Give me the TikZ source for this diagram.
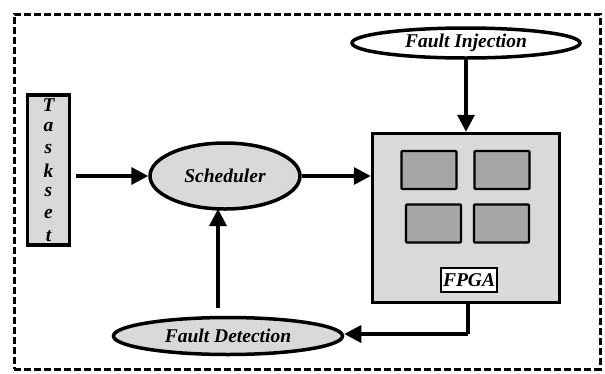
\documentclass[tikz,border=0pt]{standalone}
\usepackage{fontspec}
\setmainfont{Liberation Serif}
\usetikzlibrary{shapes.geometric,arrows.meta}
\definecolor{lgray}{HTML}{D9D9D9}
\definecolor{dgray}{HTML}{A6A6A6}
\begin{document}
\begin{tikzpicture}[x=1pt,y=-1pt,
  every node/.style={font=\bfseries\itshape\fontsize{19.5}{21}\selectfont},
  oval/.style={ellipse,draw,line width=3.5pt,inner sep=0pt},
  chip/.style={draw,line width=2.2pt,fill=dgray,rounded corners=1pt,minimum width=55pt,minimum height=38pt,inner sep=0pt},
  conn/.style={line width=3.5pt,-{Triangle[length=17pt,width=17pt]}},
  plain/.style={line width=3.5pt}]
\useasboundingbox (0,0) rectangle (605,373);
\node[draw,line width=3pt,minimum width=586pt,minimum height=355pt,inner sep=0pt,dash pattern=on 7pt off 3pt] (frame) at (307,191.5) {};
\node[oval,fill=white,minimum width=228pt,minimum height=30pt] (fi) at (466,43) {Fault Injection};
\node[draw,line width=3.5pt,fill=lgray,minimum width=42pt,minimum height=150pt,inner sep=0pt] (ts) at (48.5,170) {};
\foreach \c [count=\i] in {T,a,s,k,s,e,t}
  \node[inner sep=0pt] (ts\i) at (48.5,105+21.8*\i-21.8) {\c};
\node[oval,fill=lgray,minimum width=150pt,minimum height=66pt] (sch) at (225,176) {Scheduler};
\node[draw,line width=3.5pt,fill=lgray,minimum width=187pt,minimum height=169pt,inner sep=0pt] (fpga) at (466,218) {};
\node[chip] (c1) at (429,170) {};
\node[chip] (c2) at (502,170) {};
\node[chip] (c3) at (433.5,223.5) {};
\node[chip] (c4) at (501.5,223.5) {};
\node[draw,line width=2.2pt,fill=white,minimum width=56pt,minimum height=24pt,inner sep=0pt] (lbl) at (469,280) {FPGA};
\node[oval,fill=lgray,minimum width=229pt,minimum height=37pt] (fd) at (228,336) {Fault Detection};
\coordinate (corner) at (468,334);
\draw[conn] (fi.south) -- (fpga.north);
\draw[conn] (ts.east |- sch.west) ++(5,0) -- (sch.west);
\draw[conn] (sch.east) -- (fpga.west |- sch.east);
\draw[plain] (fpga.south -| corner) -- (corner);
\draw[conn] (corner) -- (fd.east |- corner);
\draw[conn] (fd.north -| 218,0) ++(0,-8) -- (218,209);
\end{tikzpicture}
\end{document}
